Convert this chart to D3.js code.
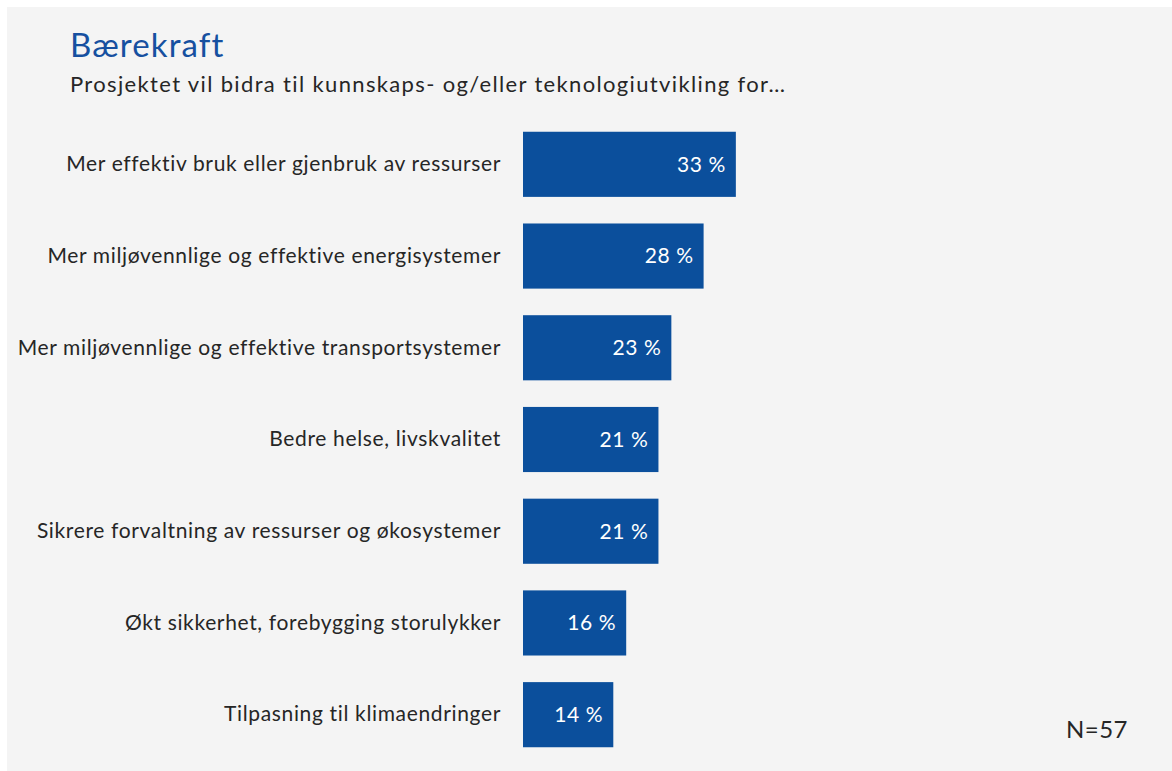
<!DOCTYPE html>
<html>
<head>
<meta charset="utf-8">
<script src="https://cdn.jsdelivr.net/npm/d3@7"></script>
<style>
  html, body { margin: 0; padding: 0; background: #ffffff; }
  svg { display: block; font-family: Lato, "Open Sans", sans-serif; }
</style>
</head>
<body>
<svg id="chart" width="1172" height="771"></svg>
<script>
const categories = [
  "Mer effektiv bruk eller gjenbruk av ressurser",
  "Mer miljøvennlige og effektive energisystemer",
  "Mer miljøvennlige og effektive transportsystemer",
  "Bedre helse, livskvalitet",
  "Sikrere forvaltning av ressurser og økosystemer",
  "Økt sikkerhet, forebygging storulykker",
  "Tilpasning til klimaendringer",
];
const values = [33, 28, 23, 21, 21, 16, 14];

const title = "Bærekraft";
const subtitle = "Prosjektet vil bidra til kunnskaps- og/eller teknologiutvikling for…";
const note = "N=57";

const svg = d3.select("#chart");
const W = 1172, H = 771;

// grey panel with thin white edge at top/left
svg.append("rect").attr("x", 7).attr("y", 7).attr("width", W - 7).attr("height", H - 7).attr("fill", "#f4f4f4");

svg.append("text").attr("x", 70).attr("y", 57)
  .attr("fill", "#1650a0").attr("font-size", 33).attr("letter-spacing", 1.1).text(title);
svg.append("text").attr("x", 70).attr("y", 92)
  .attr("fill", "#262626").attr("font-size", 22).attr("letter-spacing", 1.35).text(subtitle);

const x = d3.scaleLinear().domain([0, 100]).range([523, 523 + 645]);
const y = d3.scaleBand().domain(categories).range([118, 761]).paddingInner(0.29).paddingOuter(0.15);

const g = svg.append("g");

g.selectAll("rect.bar")
  .data(values)
  .enter()
  .append("rect")
  .attr("class", "bar")
  .attr("x", x(0))
  .attr("y", (d, i) => y(categories[i]))
  .attr("width", (d) => x(d) - x(0))
  .attr("height", y.bandwidth())
  .attr("fill", "#0b4f9c");

g.selectAll("text.val")
  .data(values)
  .enter()
  .append("text")
  .attr("class", "val")
  .attr("x", (d) => x(d) - 10)
  .attr("y", (d, i) => y(categories[i]) + y.bandwidth() / 2)
  .attr("dy", "0.35em")
  .attr("text-anchor", "end")
  .attr("fill", "#ffffff")
  .attr("font-size", 21)
  .attr("letter-spacing", 0.6)
  .text((d) => d + " %");

// category labels as a left axis without line/ticks
const yAxis = d3.axisLeft(y).tickSize(0).tickPadding(22);
const ax = svg.append("g").attr("transform", `translate(${x(0)},0)`).call(yAxis);
ax.select(".domain").remove();
ax.selectAll("text")
  .attr("font-family", "Lato, 'Open Sans', sans-serif")
  .attr("font-size", 21)
  .attr("letter-spacing", 0.65)
  .attr("fill", "#262626");

svg.append("text").attr("x", 1128).attr("y", 738)
  .attr("text-anchor", "end").attr("fill", "#262626").attr("font-size", 24).attr("letter-spacing", 0.5).text(note);
</script>
</body>
</html>
